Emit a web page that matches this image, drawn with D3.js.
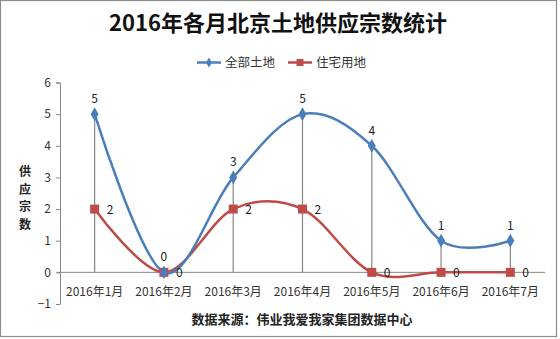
<!DOCTYPE html>
<html><head><meta charset="utf-8">
<script src="https://cdn.jsdelivr.net/npm/d3@7"></script>
<style>body{margin:0;background:#fff}svg{display:block}</style>
</head><body>
<svg id="c" width="560" height="339"></svg>
<script>
const categories = ["2016年1月","2016年2月","2016年3月","2016年4月","2016年5月","2016年6月","2016年7月"];
const allLand = [5,0,3,5,4,1,1];
const residential = [2,0,2,2,0,0,0];
const yTicks = [-1,0,1,2,3,4,5,6];
const seriesNames = ["全部土地","住宅用地"];
const titleText = "2016年各月北京土地供应宗数统计";
const yTitle = "供应宗数";
const sourceText = "数据来源：伟业我爱我家集团数据中心";

const FONT = "'Noto Sans CJK SC','Noto Sans',sans-serif";
const blue = "#4a7ebb", red = "#be4b48", grid = "#868686";
const svg = d3.select("#c");

svg.append("rect").attr("x",0.5).attr("y",0.5).attr("width",556).attr("height",336)
  .attr("fill","#fff").attr("stroke","#8c8c8c").attr("stroke-width",1.2);

const x = d3.scaleBand().domain(categories).range([60,545]);
const y = d3.scaleLinear().domain([-1,6]).range([304,82.5]);
const cx = c => x(c) + x.bandwidth()/2;

// title
svg.append("text").attr("x",278).attr("y",31).attr("text-anchor","middle")
  .attr("font-family",FONT).attr("font-weight","bold").attr("font-size",22).attr("fill","#111").text(titleText);

// legend
const lg = svg.append("g").attr("font-family",FONT).attr("font-size",12.5).attr("fill","#333");
lg.append("line").attr("x1",197).attr("x2",221).attr("y1",62.5).attr("y2",62.5).attr("stroke",blue).attr("stroke-width",2.5);
lg.append("path").attr("d",d3.symbol(d3.symbolDiamond,30)()).attr("transform","translate(209,62.5)").attr("fill",blue);
lg.append("text").attr("x",225).attr("y",67).text(seriesNames[0]);
lg.append("line").attr("x1",288).attr("x2",312).attr("y1",62.5).attr("y2",62.5).attr("stroke",red).attr("stroke-width",2.5);
lg.append("rect").attr("x",296.5).attr("y",59).attr("width",7).attr("height",7).attr("fill",red);
lg.append("text").attr("x",316).attr("y",67).text(seriesNames[1]);

// y axis
const yAxis = d3.axisLeft(y).tickValues(yTicks).tickSize(4).tickPadding(5).tickFormat(d3.format("d"));
const ya = svg.append("g").attr("transform","translate(60,0)").call(yAxis);
ya.selectAll("path,line").attr("stroke",grid);
ya.selectAll("text").attr("font-family",FONT).attr("font-size",12).attr("fill","#333");

// y title (stacked characters)
svg.append("g").selectAll("text").data(yTitle.split("")).join("text")
  .attr("x",25).attr("y",(d,i)=>176+i*17.6).attr("text-anchor","middle")
  .attr("font-family",FONT).attr("font-size",12).attr("font-weight","bold").attr("fill","#222").text(d=>d);

// x axis line at 0
svg.append("line").attr("x1",57).attr("x2",545).attr("y1",y(0)).attr("y2",y(0)).attr("stroke",grid).attr("stroke-width",1);
const xa = svg.append("g").attr("transform",`translate(0,${y(0)})`).call(d3.axisBottom(x).tickSize(0).tickPadding(15));
xa.select(".domain").remove();
xa.selectAll("text").attr("font-family",FONT).attr("font-size",12).attr("fill","#333");

// drop lines
svg.append("g").selectAll("line").data(categories).join("line")
  .attr("x1",d=>cx(d)).attr("x2",d=>cx(d))
  .attr("y1",(d,i)=>y(Math.max(allLand[i],residential[i]))).attr("y2",y(0))
  .attr("stroke",grid).attr("stroke-width",1.2);

const line = d3.line().x((d,i)=>cx(categories[i])).y(d=>y(d)).curve(d3.curveCardinal.tension(0));

svg.append("path").attr("d",line(residential)).attr("fill","none").attr("stroke",red).attr("stroke-width",2.5);
svg.append("path").attr("d",line(allLand)).attr("fill","none").attr("stroke",blue).attr("stroke-width",2.5);

// markers
svg.append("g").selectAll("rect").data(residential).join("rect")
  .attr("x",(d,i)=>cx(categories[i])-4.5).attr("y",d=>y(d)-4.5).attr("width",9).attr("height",9).attr("fill",red);
svg.append("g").selectAll("path").data(allLand).join("path")
  .attr("d",d3.symbol(d3.symbolDiamond,55)())
  .attr("transform",(d,i)=>`translate(${cx(categories[i])},${y(d)})`).attr("fill",blue);

// data labels
svg.append("g").selectAll("text").data(allLand).join("text")
  .attr("x",(d,i)=>cx(categories[i])).attr("y",d=>y(d)-11).attr("text-anchor","middle")
  .attr("font-family",FONT).attr("font-size",12).attr("fill","#222").text(d=>d);
svg.append("g").selectAll("text").data(residential).join("text")
  .attr("x",(d,i)=>cx(categories[i])+12).attr("y",d=>y(d)+4.5)
  .attr("font-family",FONT).attr("font-size",12).attr("fill","#222").text(d=>d);

// source
svg.append("text").attr("x",302).attr("y",324).attr("text-anchor","middle")
  .attr("font-family",FONT).attr("font-weight","bold").attr("font-size",13).attr("fill","#222").text(sourceText);
</script>
</body></html>
